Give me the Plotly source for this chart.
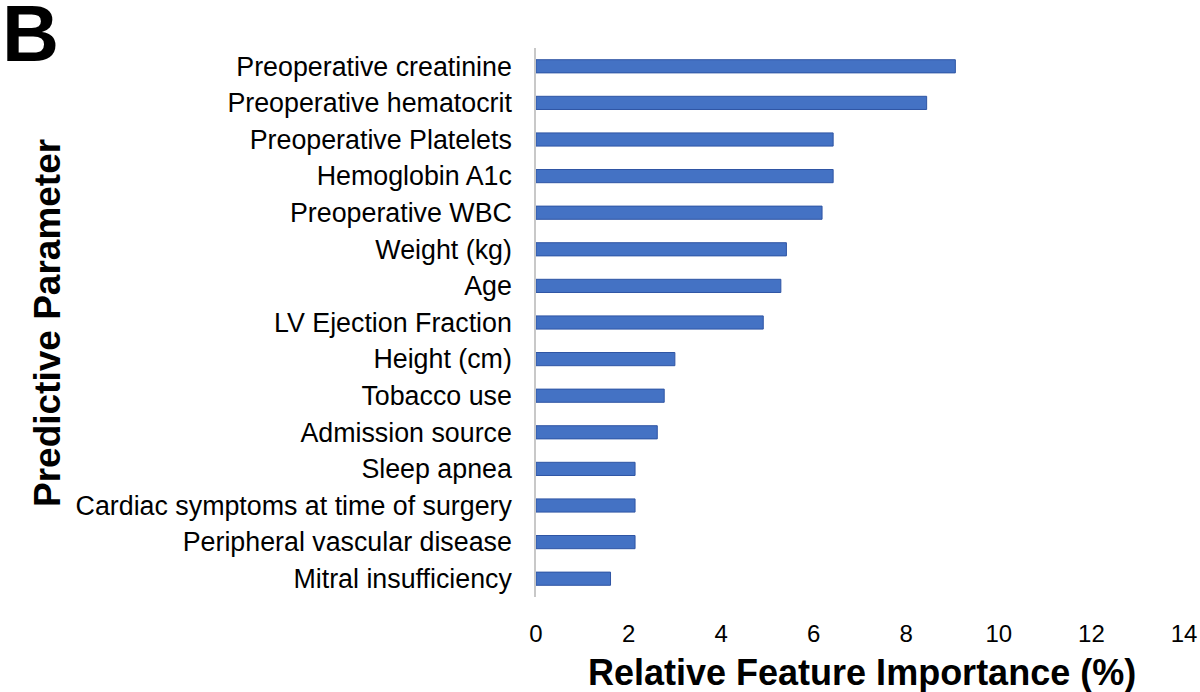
import plotly.graph_objects as go

# feature importance (top to bottom)
features = [
    "Preoperative creatinine",
    "Preoperative hematocrit",
    "Preoperative Platelets",
    "Hemoglobin A1c",
    "Preoperative WBC",
    "Weight (kg)",
    "Age",
    "LV Ejection Fraction",
    "Height (cm)",
    "Tobacco use",
    "Admission source",
    "Sleep apnea",
    "Cardiac symptoms at time of surgery",
    "Peripheral vascular disease",
    "Mitral insufficiency",
]
importance = [9.06, 8.44, 6.42, 6.42, 6.18, 5.41, 5.29, 4.91,
              3.00, 2.77, 2.62, 2.14, 2.14, 2.14, 1.61]
x_ticks = [0, 2, 4, 6, 8, 10, 12, 14]

FONT = "Liberation Sans, Arial, sans-serif"
L, R, T, B = 536, 16, 48, 95
PW, PH = 1200 - L - R, 692 - T - B

fig = go.Figure()
fig.add_trace(go.Bar(
    x=importance,
    y=features,
    orientation="h",
    width=0.36,
    marker=dict(color="#4472C4", line=dict(color="#2F55A4", width=1)),
))

fig.update_layout(
    width=1200, height=692,
    margin=dict(l=L, r=R, t=T, b=B, autoexpand=False),
    plot_bgcolor="white", paper_bgcolor="white",
    showlegend=False,
    font=dict(family=FONT, color="black", size=24),
)
fig.update_xaxes(
    range=[0, 14], tickvals=x_ticks, showgrid=False, zeroline=False,
    showline=False, ticks="", tickfont=dict(size=24), ticklabelstandoff=20,
)
fig.update_yaxes(
    autorange="reversed", showgrid=False, showline=True,
    linecolor="#C8C8C8", linewidth=1.5, ticks="", ticklabelstandoff=17,
    tickfont=dict(size=26.8),
)

# axis titles
fig.add_annotation(
    text="<b>Relative Feature Importance (%)</b>", xref="paper", yref="paper",
    x=(862 - L) / PW, y=-(672 - (T + PH)) / PH, xanchor="center",
    yanchor="middle", showarrow=False, font=dict(size=36),
)
fig.add_annotation(
    text="<b>Predictive Parameter</b>", xref="paper", yref="paper",
    x=(47 - L) / PW, y=1 - (323 - T) / PH, xanchor="center",
    yanchor="middle", textangle=-90, showarrow=False, font=dict(size=37),
)
# panel letter
fig.add_annotation(
    text="<b>B</b>", xref="paper", yref="paper",
    x=(0 - L) / PW, y=1 + (T - 34) / PH, xanchor="left", yanchor="middle",
    showarrow=False, font=dict(size=79),
)

fig.write_html("out.html", config={"displayModeBar": False},
               post_script="document.body.style.margin='0';")
